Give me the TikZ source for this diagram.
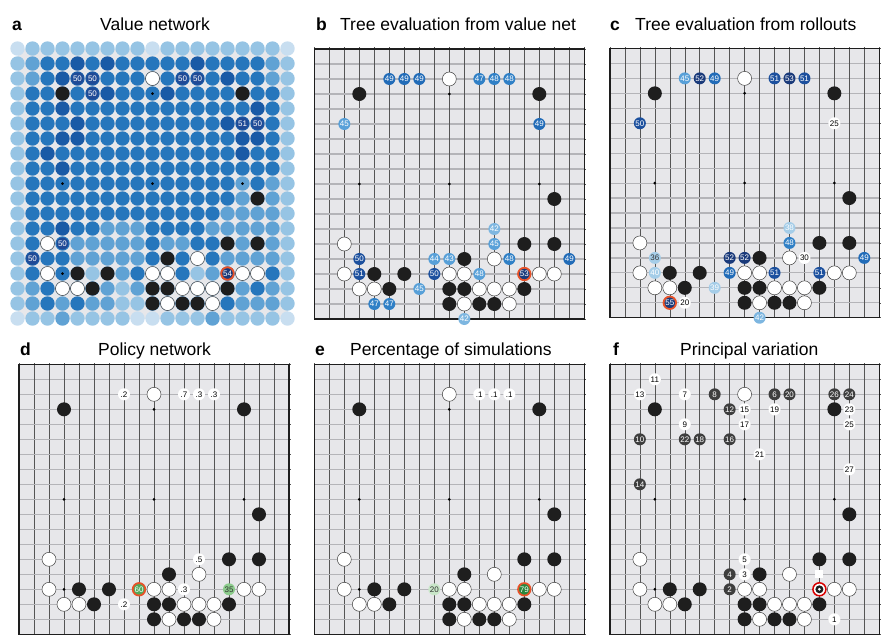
\documentclass[tikz,border=0pt]{standalone}
\usepackage{fontspec}
\setmainfont{Liberation Sans}

\definecolor{boardbg}{RGB}{231,231,234}
\definecolor{hgrid}{RGB}{180,180,184}
\definecolor{vgrid}{RGB}{85,85,85}
\definecolor{stone}{RGB}{30,30,30}
\definecolor{ring}{RGB}{232,82,40}
\definecolor{lv1}{RGB}{200,222,240}
\definecolor{lv2}{RGB}{150,196,228}
\definecolor{lv3}{RGB}{96,162,212}
\definecolor{lv4}{RGB}{38,118,188}
\definecolor{lv5}{RGB}{26,90,166}
\definecolor{aN}{RGB}{32,74,150}
\definecolor{bA}{RGB}{165,205,232}
\definecolor{bB}{RGB}{125,182,224}
\definecolor{bC}{RGB}{88,160,216}
\definecolor{bD}{RGB}{48,128,198}
\definecolor{bE}{RGB}{34,108,184}
\definecolor{bF}{RGB}{28,80,158}
\definecolor{bG}{RGB}{26,58,122}
\definecolor{gL}{RGB}{200,230,200}
\definecolor{gA}{RGB}{140,204,140}
\definecolor{gB}{RGB}{80,170,90}
\definecolor{gD}{RGB}{40,135,60}
\definecolor{mv}{RGB}{62,62,62}

\tikzset{
	title/.style={anchor=base west,inner sep=0,font=\fontsize{17.5}{20}\selectfont},
	tag/.style={title,font=\fontsize{17.5}{20}\selectfont\bfseries},
	hline/.style={hgrid,line width=1.2pt},
	vline/.style={vgrid,line width=0.5pt},
	frame/.style={draw=stone,line width=1.3pt},
	wst/.style={circle,draw=black!75,fill=white,line width=0.5pt,inner sep=0,outer sep=0,minimum size=14pt},
	bst/.style={circle,fill=stone,inner sep=0,outer sep=0,minimum size=14pt},
	cell/.style={circle,inner sep=0,outer sep=0,minimum size=14.4pt},
	val/.style={circle,fill=#1,text=white,inner sep=0,outer sep=0,minimum size=12pt,font=\fontsize{8}{8}\selectfont},
	wval/.style={val=white,text=black},
	best/.style={draw=ring,line width=1.8pt,minimum size=12.5pt}
}

% empty 19x19 board, one unit per line
\newcommand{\goboard}{%
	\fill[boardbg] (1,1) rectangle (19,19);
	\foreach \i in {2,...,18} {
		\draw[hline] (1,\i) -- (19,\i);
		\draw[vline] (\i,1) -- (\i,19);
	}
	\foreach \i in {1,...,19} {
		\draw[vline] (\i,1) -- (\i,0.88);
		\draw[vline] (19,\i) -- (19.12,\i);
	}
	\draw[frame] (1,1) rectangle (19,19);
	\foreach \c in {4,10,16} \foreach \r in {4,10,16} \fill (\c,\r) circle (1.5pt);
}

% stones on the board in every panel
\newcommand{\basestones}{%
	\foreach \c/\r [count=\i] in {10/3,3/14,13/15,3/16,10/16,11/16,16/16,17/16,4/17,5/17,12/17,13/17,14/17,11/18,14/18}
		\node[wst] (w\i) at (\c,\r) {};
	\foreach \c/\r [count=\i] in {4/4,16/4,17/11,15/14,17/14,11/15,5/16,7/16,6/17,10/17,11/17,15/17,10/18,12/18,13/18}
		\node[bst] (k\i) at (\c,\r) {};
}

\begin{document}
\begin{tikzpicture}[x=1pt,y=-1pt]
	\useasboundingbox (0,0) rectangle (894,641);

	% titles
	\node[tag] (la) at (12,30) {a};
	\node[title] (ta) at (100,30) {Value network};
	\node[tag] (lb) at (316,30) {b};
	\node[title] (tb) at (340,30) {Tree evaluation from value net};
	\node[tag] (lc) at (610,30) {c};
	\node[title] (tc) at (635,30) {Tree evaluation from rollouts};
	\node[tag] (ld) at (20,355) {d};
	\node[title] (td) at (98,355) {Policy network};
	\node[tag] (le) at (315,355) {e};
	\node[title] (te) at (350,355) {Percentage of simulations};
	\node[tag] (lf) at (613,355) {f};
	\node[title] (tf) at (680,355) {Principal variation};

	% a: value network
	\begin{scope}[xshift=2.5pt,yshift=-33.5pt,x=15pt,y=-15pt,name prefix=a-]
		\fill[boardbg] (1,1) rectangle (19,19);
		\foreach \r/\vals in {
			1/{1,2,2,2,2,2,2,2,2,1,2,2,2,2,2,2,2,2,1},
			2/{2,3,4,4,5,4,5,4,4,4,4,4,5,4,4,4,4,3,2},
			3/{2,3,4,5,5,5,4,4,4,4,4,5,5,4,5,4,4,3,2},
			4/{2,4,4,5,4,5,5,4,4,4,5,4,4,4,4,5,4,4,2},
			5/{2,4,4,5,4,4,4,4,4,4,4,4,4,4,4,4,5,4,2},
			6/{2,4,4,4,5,4,4,4,4,4,4,4,4,4,5,5,5,4,2},
			7/{2,4,4,5,5,4,4,4,4,4,4,4,4,4,4,5,5,4,2},
			8/{2,4,5,4,4,4,4,4,4,4,4,4,4,4,4,5,4,4,2},
			9/{2,4,4,5,4,4,4,4,4,4,4,4,4,4,4,4,4,4,2},
			10/{2,4,4,4,4,4,4,4,4,4,4,4,4,4,4,3,4,3,2},
			11/{2,4,4,4,4,4,4,4,4,4,4,4,4,4,4,3,3,3,2},
			12/{2,4,4,4,4,4,4,4,4,4,4,4,4,4,3,3,3,3,2},
			13/{2,4,4,5,4,4,3,3,3,4,4,4,4,3,3,3,3,3,2},
			14/{2,4,3,4,3,3,3,3,3,4,3,3,4,4,3,3,4,3,2},
			15/{2,5,4,4,3,3,3,3,3,4,3,4,3,4,3,3,3,3,2},
			16/{2,4,3,4,3,2,3,3,4,3,4,4,2,3,5,3,3,4,2},
			17/{2,3,4,3,4,4,3,2,3,3,3,2,4,4,3,3,4,3,2},
			18/{2,3,4,3,4,3,3,2,2,4,4,4,4,3,4,3,3,3,2},
			19/{1,2,2,3,2,2,2,2,1,1,2,2,2,3,2,2,2,2,1}}
			\foreach \v [count=\c] in \vals
				\node[cell,fill=lv\v] (p\c-\r) at (\c,\r) {};
		\foreach \c/\r in {10/4,4/10,10/10,16/10,4/16} \fill (\c,\r) circle (1.5pt);
		\basestones
		\foreach \c/\r/\v [count=\i] in {5/3/50,6/3/50,12/3/50,13/3/50,6/4/50,16/6/51,17/6/50,4/14/50,2/15/50}
			\node[val=aN] (n\i) at (\c,\r) {\v};
		\node[val=bG,best] (best) at (15,16) {54};
	\end{scope}

	% b: tree evaluation from value net
	\begin{scope}[xshift=299.3pt,yshift=-34pt,x=15pt,y=-15pt,name prefix=b-]
		\goboard
		\basestones
		\foreach \c/\r/\v/\k [count=\i] in {6/3/49/bE,7/3/49/bE,8/3/49/bE,12/3/47/bD,13/3/48/bD,14/3/48/bD,
				3/6/45/bC,16/6/49/bE,13/13/42/bB,13/14/45/bC,4/15/50/bF,9/15/44/bC,10/15/43/bC,
				14/15/48/bD,18/15/49/bE,4/16/51/bF,9/16/50/bF,12/16/48/bC,8/17/45/bC,
				5/18/47/bD,6/18/47/bD,11/19/42/bB}
			\node[val=\k] (n\i) at (\c,\r) {\v};
		\node[val=bG,best] (best) at (15,16) {53};
	\end{scope}

	% c: tree evaluation from rollouts
	\begin{scope}[xshift=595pt,yshift=-33.5pt,x=14.96pt,y=-14.96pt,name prefix=c-]
		\goboard
		\basestones
		\foreach \c/\r/\v/\k [count=\i] in {6/3/45/bC,7/3/52/bG,8/3/49/bE,12/3/51/bF,13/3/53/bG,14/3/51/bF,
				3/6/50/bF,13/13/38/bA,13/14/48/bD,9/15/52/bG,10/15/52/bG,18/15/49/bE,
				4/16/40/bA,9/16/49/bE,12/16/51/bF,15/16/51/bF,8/17/39/bA,11/19/42/bB}
			\node[val=\k] (n\i) at (\c,\r) {\v};
		\foreach \c/\r/\v [count=\i] in {16/6/25,14/15/30,6/18/20}
			\node[wval] (m\i) at (\c,\r) {\v};
		\node[val=bA,text=black!80] (low) at (4,15) {36};
		\node[val=bG,best] (best) at (5,18) {55};
	\end{scope}

	% d: policy network
	\begin{scope}[xshift=4pt,yshift=-349.3pt,x=15pt,y=-15pt,name prefix=d-]
		\goboard
		\basestones
		\foreach \c/\r/\v [count=\i] in {8/3/.2,12/3/.7,13/3/.3,14/3/.3,13/14/.5,12/16/.3,8/17/.2}
			\node[wval] (m\i) at (\c,\r) {\v};
		\node[val=gA,text=black!80] (next) at (15,16) {35};
		\node[val=gB,best] (best) at (9,16) {60};
	\end{scope}

	% e: percentage of simulations
	\begin{scope}[xshift=299.3pt,yshift=-349.3pt,x=15pt,y=-15pt,name prefix=e-]
		\goboard
		\basestones
		\foreach \c/\r/\v [count=\i] in {12/3/.1,13/3/.1,14/3/.1}
			\node[wval] (m\i) at (\c,\r) {\v};
		\node[val=gL,text=black!80] (next) at (9,16) {20};
		\node[val=gD,best] (best) at (15,16) {79};
	\end{scope}

	% f: principal variation
	\begin{scope}[xshift=595pt,yshift=-349.3pt,x=14.96pt,y=-15pt,name prefix=f-]
		\goboard
		\basestones
		\foreach \c/\r/\v [count=\i] in {8/3/8,12/3/6,13/3/20,16/3/26,17/3/24,9/4/12,3/6/10,
				6/6/22,7/6/18,9/6/16,3/9/14,9/15/4,9/16/2}
			\node[val=mv] (mb\i) at (\c,\r) {\v};
		\foreach \c/\r/\v [count=\i] in {4/2/11,3/3/13,6/3/7,10/4/15,12/4/19,17/4/23,6/5/9,
				10/5/17,17/5/25,11/7/21,17/8/27,10/14/5,10/15/3,16/18/1}
			\node[wval] (mw\i) at (\c,\r) {\v};
		\node[fill=white,inner sep=0,minimum size=8pt] (sq) at (15,15) {};
		\node[circle,fill=white,draw=red!85!black,line width=1.5pt,inner sep=0,minimum size=13pt] (last) at (15,16) {};
		\node[circle,fill=stone,inner sep=0,minimum size=8pt] (lastin) at (last) {};
		\node[circle,fill=white,inner sep=0,minimum size=3pt] (lastdot) at (last) {};
	\end{scope}
\end{tikzpicture}
\end{document}
